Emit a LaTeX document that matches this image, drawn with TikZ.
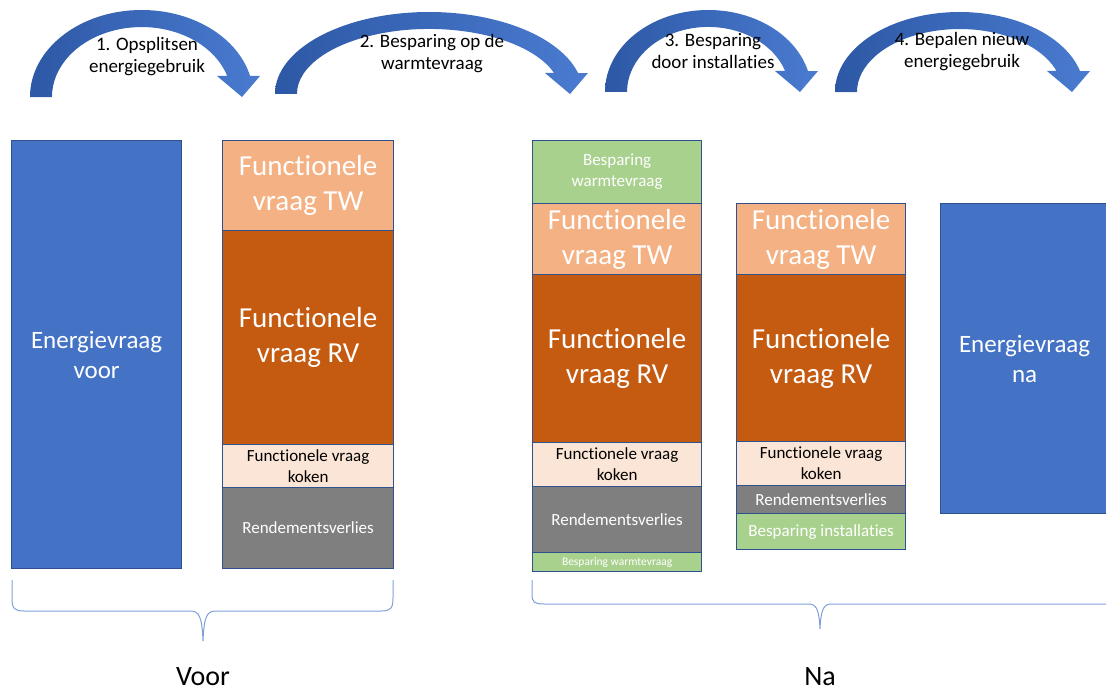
\documentclass[tikz,border=0pt]{standalone}
\usepackage{fontspec}
\setmainfont{Carlito}[Ligatures={NoCommon,NoContextual}]
\usepackage{tikz}
\definecolor{ppBlue}{HTML}{4472C4}
\definecolor{ppEdge}{HTML}{2F528F}
\definecolor{ppPeach}{HTML}{F4B183}
\definecolor{ppOrange}{HTML}{C55A11}
\definecolor{ppLight}{HTML}{FBE5D6}
\definecolor{ppGray}{HTML}{7F7F7F}
\definecolor{ppGreen}{HTML}{A9D18E}
\definecolor{ppArrowL}{HTML}{2D58A5}
\definecolor{ppArrowR}{HTML}{4A7BD0}
\definecolor{ppBrace}{HTML}{7F9FD8}

\begin{document}
\begin{tikzpicture}[x=1pt,y=-1pt,
    blok/.style={draw=ppEdge, line width=1.2pt, inner sep=0pt, align=center, anchor=north west, text=white},
    groot/.style={font=\fontsize{29}{35}\selectfont},
    middel/.style={font=\fontsize{25}{30}\selectfont},
    klein/.style={font=\fontsize{17}{21}\selectfont},
    mini/.style={font=\fontsize{11.5}{13}\selectfont},
    stap/.style={font=\fontsize{19}{22}\selectfont, align=center, inner sep=0pt},
    bocht/.style={left color=ppArrowL, right color=ppArrowR},
    accolade/.style={draw=ppBrace, line width=1pt},
    kop/.style={font=\fontsize{28}{34}\selectfont, inner sep=0pt, anchor=base}]
    \useasboundingbox (0,0) rectangle (1106,690);
    \clip (0,0) rectangle (1106,690);
    \shade [bocht] (30,97) arc[start angle=180, end angle=346, x radius=111.7, y radius=87] -- (260,76) -- (242,97) -- (217,76) -- (227.2,76) arc[start angle=342.5, end angle=180, x radius=89.7, y radius=70] -- cycle;
    \shade [bocht] (275,94) arc[start angle=180, end angle=345.2, x radius=154.1, y radius=82] -- (588,73) -- (570,94) -- (545,73) -- (554.1,73) arc[start angle=341.2, end angle=180, x radius=132.1, y radius=65] -- cycle;
    \shade [bocht] (605,92) arc[start angle=180, end angle=345.2, x radius=103.2, y radius=82] -- (818,71) -- (800,92) -- (775,71) -- (785.1,71) arc[start angle=341.2, end angle=180, x radius=81.2, y radius=65] -- cycle;
    \shade [bocht] (835,92) arc[start angle=180, end angle=344.8, x radius=124.7, y radius=80] -- (1090,71) -- (1072,92) -- (1047,71) -- (1056.5,71) arc[start angle=340.5, end angle=180, x radius=102.7, y radius=63] -- cycle;
    \node [stap] (stap1) at (147,57) {1. Opsplitsen\\energiegebruik};
    \node [stap] (stap2) at (432,54) {2. Besparing op de\\warmtevraag};
    \node [stap] (stap3) at (713,51) {3. Besparing\\door installaties};
    \node [stap] (stap4) at (962,52) {4. Bepalen nieuw\\energiegebruik};
    \node [blok, middel, fill=ppBlue, minimum width=170pt, minimum height=428pt] (evVoor) at (11,140) {Energievraag\\voor};
    \node [blok, groot, fill=ppPeach, minimum width=171pt, minimum height=90pt] (tw1) at (222,140) {Functionele\\vraag TW};
    \node [blok, groot, fill=ppOrange, minimum width=171pt, minimum height=214pt] (rv1) at (222,230) {Functionele\\vraag RV};
    \node [blok, klein, fill=ppLight, text=black, minimum width=171pt, minimum height=43pt] (kok1) at (222,444) {Functionele vraag\\koken};
    \node [blok, klein, fill=ppGray, minimum width=171pt, minimum height=81pt] (rend1) at (222,487) {Rendementsverlies};
    \node [blok, klein, fill=ppGreen, minimum width=169pt, minimum height=63pt] (besp2) at (532,140) {Besparing\\warmtevraag};
    \node [blok, groot, fill=ppPeach, minimum width=169pt, minimum height=71pt] (tw2) at (532,203) {Functionele\\vraag TW};
    \node [blok, groot, fill=ppOrange, minimum width=169pt, minimum height=168pt] (rv2) at (532,274) {Functionele\\vraag RV};
    \node [blok, klein, fill=ppLight, text=black, minimum width=169pt, minimum height=44pt] (kok2) at (532,442) {Functionele vraag\\koken};
    \node [blok, klein, fill=ppGray, minimum width=169pt, minimum height=66pt] (rend2) at (532,486) {Rendementsverlies};
    \node [blok, mini, fill=ppGreen, minimum width=169pt, minimum height=19pt] (bespk2) at (532,552) {Besparing warmtevraag};
    \node [blok, groot, fill=ppPeach, minimum width=169pt, minimum height=71pt] (tw3) at (736,203) {Functionele\\vraag TW};
    \node [blok, groot, fill=ppOrange, minimum width=169pt, minimum height=167pt] (rv3) at (736,274) {Functionele\\vraag RV};
    \node [blok, klein, fill=ppLight, text=black, minimum width=169pt, minimum height=44pt] (kok3) at (736,441) {Functionele vraag\\koken};
    \node [blok, klein, fill=ppGray, minimum width=169pt, minimum height=28pt] (rend3) at (736,485) {Rendementsverlies};
    \node [blok, klein, fill=ppGreen, minimum width=169pt, minimum height=36pt] (bespi3) at (736,513) {Besparing installaties};
    \node [blok, middel, fill=ppBlue, minimum width=168pt, minimum height=310pt] (evNa) at (940,203) {Energievraag\\na};
    \draw [accolade] (12,580) -- (12,598) .. controls (12,608) and (14,611) .. (24,611) -- (190,611) .. controls (199,611) and (202,616) .. (203,641) .. controls (204,616) and (207,611) .. (216,611) -- (381,611) .. controls (391,611) and (393,608) .. (393,598) -- (393,580);
    \draw [accolade] (532,580) -- (532,594) .. controls (532,602) and (534,604) .. (544,604) -- (808,604) .. controls (816,604) and (819,608) .. (820,629) .. controls (821,608) and (824,604) .. (832,604) -- (1120,604);
    \node [kop] (voor) at (203,685) {Voor};
    \node [kop] (na) at (820,685) {Na};
\end{tikzpicture}
\end{document}
